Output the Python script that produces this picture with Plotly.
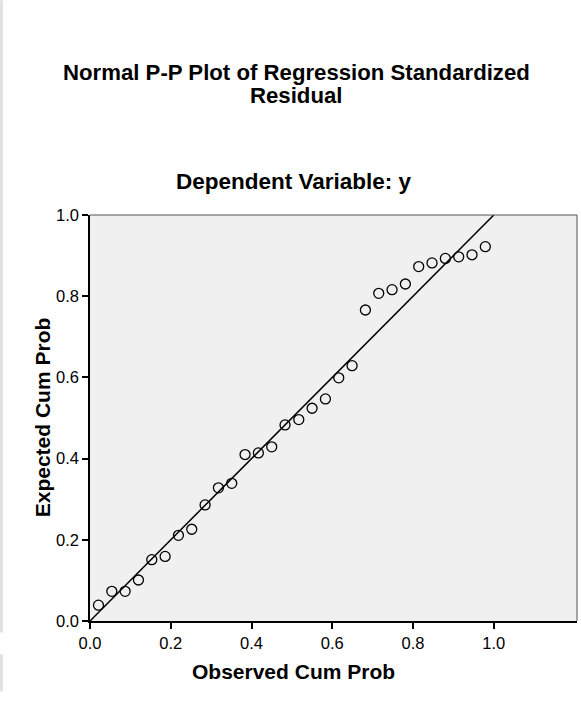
import plotly.graph_objects as go

# Observed cumulative probability (x) and expected cumulative probability (y)
observed_cum_prob = [0.021, 0.054, 0.087, 0.120, 0.153, 0.186, 0.219, 0.252, 0.285, 0.318,
                     0.351, 0.384, 0.417, 0.450, 0.483, 0.517, 0.550, 0.583, 0.616, 0.649,
                     0.682, 0.715, 0.748, 0.781, 0.814, 0.847, 0.880, 0.913, 0.946, 0.979]
expected_cum_prob = [0.039, 0.073, 0.073, 0.101, 0.151, 0.159, 0.211, 0.226, 0.286, 0.328,
                     0.339, 0.410, 0.414, 0.429, 0.483, 0.496, 0.524, 0.547, 0.599, 0.629,
                     0.766, 0.807, 0.816, 0.830, 0.873, 0.882, 0.893, 0.897, 0.902, 0.922]
diag_x = [0.0, 1.0]
diag_y = [0.0, 1.0]
tick_vals = [0.0, 0.2, 0.4, 0.6, 0.8, 1.0]
tick_text = ["0.0", "0.2", "0.4", "0.6", "0.8", "1.0"]

title_line1 = "Normal P-P Plot of Regression Standardized"
title_line2 = "Residual"
subtitle_text = "Dependent Variable: y"
x_title = "Observed Cum Prob"
y_title = "Expected Cum Prob"

FONT = "Liberation Sans, Arial, sans-serif"

fig = go.Figure()
fig.add_trace(go.Scatter(x=diag_x, y=diag_y, mode="lines",
                         line=dict(color="black", width=1.5), hoverinfo="skip"))
fig.add_trace(go.Scatter(x=observed_cum_prob, y=expected_cum_prob, mode="markers",
                         marker=dict(symbol="circle-open", size=10, color="black",
                                     line=dict(color="black", width=1.3))))

L, R, T, B = 90, 4, 215, 80.5
W, H = 581, 702
pw = W - L - R
ph = H - T - B

def px_to_paper_x(px):
    return (px - L) / pw

def px_to_paper_y(py):
    return (H - B - py) / ph

def label(text, x, y, size, angle=0):
    return dict(text="<b>" + text + "</b>", xref="paper", yref="paper",
                x=px_to_paper_x(x), y=px_to_paper_y(y), xanchor="center", yanchor="middle",
                textangle=angle, showarrow=False,
                font=dict(size=size, family=FONT, color="black"))

fig.update_layout(
    width=W, height=H, autosize=False,
    margin=dict(l=L, r=R, t=T, b=B, pad=0),
    paper_bgcolor="white", plot_bgcolor="#f0f0f0",
    showlegend=False,
    font=dict(family=FONT, color="black"),
    xaxis=dict(range=[0, 1.206], tickvals=tick_vals, ticktext=tick_text,
               showgrid=False, zeroline=False, showline=True, linecolor="black", linewidth=1.5,
               ticks="outside", ticklen=6, tickwidth=1.5, tickcolor="black",
               tickfont=dict(size=16.5, family=FONT, color="black")),
    yaxis=dict(range=[0, 1.0], tickvals=tick_vals, ticktext=tick_text,
               showgrid=False, zeroline=False, showline=True, linecolor="black", linewidth=1.5,
               ticks="outside", ticklen=6, tickwidth=1.5, tickcolor="black",
               tickfont=dict(size=16.5, family=FONT, color="black")),
    annotations=[
        label(title_line1, 296, 72, 22.2),
        label(title_line2, 296, 95, 22.2),
        label(subtitle_text, 294, 181, 22.5),
        label(x_title, 293, 672, 21),
        label(y_title, 42.5, 418, 21, angle=-90),
    ],
    shapes=[
        dict(type="line", xref="paper", yref="paper", x0=0, x1=1, y0=1, y1=1,
             line=dict(color="#555555", width=1)),
        dict(type="line", xref="paper", yref="paper", x0=1, x1=1, y0=0, y1=1,
             line=dict(color="#555555", width=1)),
        dict(type="rect", xref="paper", yref="paper", layer="below",
             x0=px_to_paper_x(0), x1=px_to_paper_x(3), y0=px_to_paper_y(633), y1=px_to_paper_y(0),
             line=dict(width=0), fillcolor="#e2e2e2"),
        dict(type="rect", xref="paper", yref="paper", layer="below",
             x0=px_to_paper_x(0), x1=px_to_paper_x(3), y0=px_to_paper_y(692), y1=px_to_paper_y(655),
             line=dict(width=0), fillcolor="#e2e2e2"),
    ],
)

fig.write_html("out.html", config={"displayModeBar": False},
               post_script="document.body.style.margin='0';")
